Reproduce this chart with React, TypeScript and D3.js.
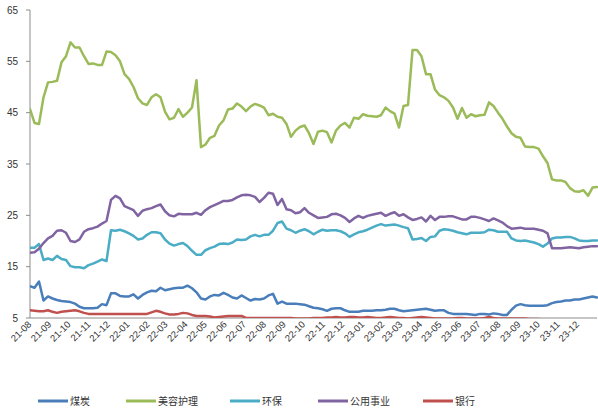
import React from "react";
import * as d3 from "d3";

const seriesNames = ["煤炭", "美容护理", "环保", "公用事业", "银行"];
const seriesColors = ["#4A7EBB", "#9BBB59", "#4BACC6", "#8064A2", "#C0504D"];

const coal = [11.2,10.9,12.1,8.4,9.2,8.8,8.5,8.3,8.2,8.1,
7.8,7.2,6.9,6.9,6.9,7.0,7.7,7.5,9.8,9.8,
9.3,9.2,9.2,9.6,8.8,9.5,10.0,10.3,10.2,10.9,
10.4,10.6,10.8,10.9,10.9,11.3,10.8,10.0,8.8,8.6,
9.2,9.5,9.4,9.9,9.5,9.0,8.8,9.4,8.9,8.4,
8.7,8.6,8.8,9.4,9.7,7.8,8.2,7.8,7.8,7.8,
7.7,7.6,7.3,7.0,6.9,6.7,6.4,6.8,6.9,6.9,
6.5,6.2,6.2,6.2,6.4,6.4,6.4,6.5,6.5,6.6,
6.8,6.8,6.5,6.3,6.4,6.5,6.6,6.7,6.8,6.6,
6.4,6.5,6.5,6.0,5.8,5.8,5.8,5.8,5.7,5.6,
5.8,5.8,5.7,5.9,5.8,5.6,5.6,6.6,7.4,7.7,
7.5,7.4,7.4,7.4,7.4,7.5,7.9,8.1,8.2,8.4,
8.4,8.6,8.6,8.8,9.0,9.2,9.0];

const beauty = [45.7,43,42.8,48,50.9,51,51.2,54.8,56,58.7,
57.7,57.7,56,54.5,54.6,54.3,54.3,56.9,56.8,56.2,
55,52.5,51.6,50,47.8,46.8,46.5,48,48.6,48,
45.2,43.7,44,45.7,44.2,45,46,51.3,38.3,38.8,
40.1,40.5,42.5,43.5,45.6,45.8,46.8,46.2,45.3,46.2,
46.7,46.4,46,44.5,44.8,44.2,44,42.8,40.3,41.5,
42.2,42.5,41,38.9,41.3,41.5,41.2,39.2,41.5,42.5,
43,42.1,44,43.8,44.7,44.4,44.3,44.2,44.5,46,
45.3,44.8,42.1,46.3,46.5,57.2,57.2,56,52.5,52.5,
49.5,48.4,48,47.3,46,43.8,45.9,44,44.7,44.3,
44.5,44.6,47,46.3,45,43.8,42.3,41,40.3,40.1,
38.4,38.3,38.3,38,36.5,35.2,32,31.8,31.8,31.5,
30.3,29.7,29.6,29.9,28.8,30.4,30.5];

const envir = [18.7,18.7,19.4,16.3,16.6,16.3,17.1,16.5,16.3,15.1,
14.9,14.9,14.7,15.3,15.6,16,16.4,16.1,22.1,22,
22.2,21.9,21.5,21,20.3,20.5,21.2,21.7,21.7,21.5,
20.3,19.5,19.1,19.4,19.6,19,18.1,17.3,17.3,18.2,
18.6,18.9,19.4,19.5,19.4,19.7,20.3,20.2,20.3,20.9,
21.2,20.9,21.2,21.2,22,23.5,23.8,22.4,22.1,21.6,
22,22.3,21.9,21.3,21.8,22.2,22,22.1,22.1,21.9,
21.5,20.8,21.3,21.7,21.9,22.2,22.6,23,23.3,23,
23.1,23.2,23,22.7,22.5,20.3,20.4,20.6,20,20.8,
20.9,22,22.3,22.2,22,21.7,21.5,21.3,21.6,21.6,
21.6,21.7,22.2,22.1,21.8,21.8,21.8,20.5,20.1,20,
20.1,19.9,19.7,19.4,18.9,19.5,20.5,20.7,20.7,20.8,
20.8,20.5,20.1,20,20,20.1,20.1];

const utility = [17.7,17.8,18.5,19.6,20.5,21,22,22.1,21.6,20,
19.8,20.3,21.8,22.3,22.5,22.8,23.4,23.9,28,28.8,
28.3,26.8,26.4,26,24.9,25.9,26.2,26.4,26.8,27.1,
25.8,25,24.8,25.3,25.2,25.2,25.2,25.5,25.1,26,
26.6,27,27.4,27.8,27.8,28,28.5,28.9,29,28.9,
28.6,27.6,28.4,29.4,29.2,27,28.2,26.2,26,25.4,
25.6,26.4,25.5,25,24.5,24.6,24.7,25.2,25.3,25,
24.5,23.7,24.4,24.9,24.5,24.9,25.1,25.3,25.5,24.9,
25.3,25.6,24.9,25.2,24.6,24.1,24.3,24.6,23.8,24.9,
24.1,24.7,24.7,24.8,24.8,24.5,24.2,24.2,24.7,24.7,
24.5,24.2,23.9,24.4,24,23.6,22.9,22.4,22.5,22.6,
22.4,22.4,22.4,22.2,22,21.5,18.6,18.6,18.6,18.7,
18.8,18.7,18.6,18.8,18.9,19,19];

const bank = [6.5,6.4,6.3,6.3,6.5,6.2,6.0,6.2,6.3,6.4,
6.5,6.3,6.0,5.8,5.8,5.8,5.8,5.8,5.8,5.8,
5.8,5.8,5.8,5.8,5.8,5.8,5.8,6.1,6.4,6.2,
5.9,5.7,5.7,5.8,6.0,5.9,5.6,5.4,5.4,5.4,
5.3,5.1,5.2,5.3,5.4,5.4,5.4,5.4,5.0,5.0,
5.0,5.0,5.0,5.0,5.0,5.0,5.0,5.0,5.0,4.9,
4.9,4.9,4.9,5.0,5.0,5.0,5.1,5.1,5.2,5.1,
5.1,5.2,5.2,5.1,5.1,5.2,5.1,5.0,5.0,5.1,
5.2,5.1,5.0,5.0,4.9,5.0,5.1,5.2,5.1,5.0,
4.9,4.9,4.9,4.9,4.9,5.0,5.0,4.9,4.9,4.9,
4.9,5.0,5.2,5.0,4.9,4.9,4.9,4.9,4.9,4.9,
4.9,4.8,4.8,4.8,4.7,4.7,4.7,4.7,4.7,4.7,
4.7,4.7,4.7,4.7,4.7,4.7,4.7];

const seriesValues = [coal, beauty, envir, utility, bank];
const yTicks = [5, 15, 25, 35, 45, 55, 65];
const startDate = new Date(2021, 7, 1);
const dates = coal.map((_, i) => d3.timeDay.offset(startDate, 7 * i));
const monthTicks = d3.timeMonth.range(new Date(2021, 7, 1), new Date(2024, 0, 1));

const W = 598, H = 409;
const left = 30, right = 597, top = 10, bottom = 318;

export default function App() {
  const x = d3.scaleTime().domain([startDate, dates[dates.length - 1]]).range([left, right]);
  const y = d3.scaleLinear().domain([5, 65]).range([bottom, top]);
  const line = d3.line<number>().x((_, i) => x(dates[i])).y((d) => y(d));
  const fmt = d3.timeFormat("%y-%m");
  const legendX = [38, 126, 230, 318, 423];
  return (
    <svg width={W} height={H} style={{ position: "absolute", left: 0, top: 0, background: "#fff" }}
      fontFamily="'Liberation Sans', Arial, sans-serif">
      <defs>
        <clipPath id="plot">
          <rect x={left} y={0} width={right - left + 2} height={bottom} />
        </clipPath>
      </defs>
      <line x1={left} x2={right} y1={bottom} y2={bottom} stroke="#8c8c8c" strokeWidth={1} />
      <line x1={left} x2={left} y1={top} y2={bottom} stroke="#8c8c8c" strokeWidth={1} />
      {yTicks.map((t) => (
        <g key={t}>
          <line x1={left - 4} x2={left} y1={y(t)} y2={y(t)} stroke="#8c8c8c" />
          <text x={18} y={y(t)} dy="0.35em" textAnchor="end" fontSize={10} fill="#333">{t}</text>
        </g>
      ))}
      {monthTicks.map((m) => (
        <text key={+m} transform={`translate(${x(m) + 2},${325}) rotate(-45)`} textAnchor="end"
          fontSize={9.5} fill="#333">{fmt(m)}</text>
      ))}
      <g clipPath="url(#plot)">
        {seriesValues.map((vals, k) => (
          <path key={k} d={line(vals) || ""} fill="none" stroke={seriesColors[k]} strokeWidth={2.5}
            strokeLinejoin="round" strokeLinecap="round" />
        ))}
      </g>
      {seriesNames.map((n, k) => (
        <g key={n}>
          <line x1={legendX[k]} x2={legendX[k] + 30} y1={401} y2={401} stroke={seriesColors[k]} strokeWidth={3} />
          <text x={legendX[k] + 32} y={401} dy="0.35em" fontSize={10} fill="#333"
            fontFamily="'Noto Sans CJK SC', sans-serif">{n}</text>
        </g>
      ))}
    </svg>
  );
}
